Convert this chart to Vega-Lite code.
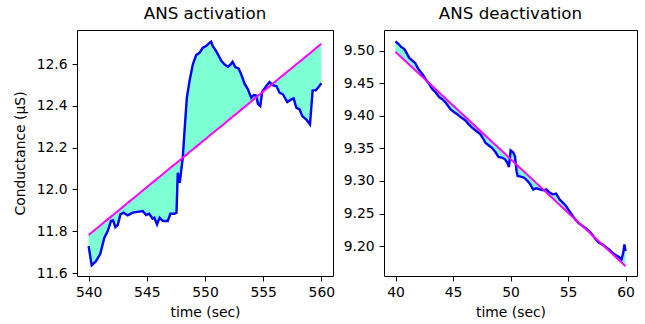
{
  "$schema": "https://vega.github.io/schema/vega-lite/v6.json",
  "background": "white",
  "padding": {"left": 12, "top": 5, "right": 5, "bottom": 3},
  "spacing": 6,
  "config": {
    "font": "DejaVu Sans",
    "view": {"stroke": "#000", "strokeWidth": 1},
    "axis": {
      "grid": false, "domain": false, "ticks": true, "tickColor": "#000", "tickSize": 4.9, "tickWidth": 1,
      "labelFont": "DejaVu Sans", "labelFontSize": 13.9, "labelColor": "#000", "labelPadding": 5,
      "titleFont": "DejaVu Sans", "titleFontSize": 13.9, "titleFontWeight": "normal", "titleColor": "#000",
      "labelFlush": false
    },
    "axisX": {"titlePadding": 6},
    "axisY": {"titlePadding": 9},
    "title": {"font": "DejaVu Sans", "fontSize": 16.7, "fontWeight": "normal", "color": "#000", "offset": 7}
  },
  "datasets": {
    "act": [
      {"t": 540.0, "v": 11.729, "fit": 11.782},
      {"t": 540.26, "v": 11.637, "fit": 11.794},
      {"t": 540.63, "v": 11.657, "fit": 11.811},
      {"t": 541.0, "v": 11.692, "fit": 11.828},
      {"t": 541.35, "v": 11.769, "fit": 11.844},
      {"t": 541.64, "v": 11.801, "fit": 11.857},
      {"t": 541.92, "v": 11.849, "fit": 11.870},
      {"t": 542.1, "v": 11.852, "fit": 11.878},
      {"t": 542.3, "v": 11.82, "fit": 11.887},
      {"t": 542.5, "v": 11.83, "fit": 11.896},
      {"t": 542.73, "v": 11.881, "fit": 11.907},
      {"t": 543.0, "v": 11.889, "fit": 11.919},
      {"t": 543.36, "v": 11.876, "fit": 11.936},
      {"t": 543.79, "v": 11.889, "fit": 11.955},
      {"t": 544.2, "v": 11.893, "fit": 11.974},
      {"t": 544.65, "v": 11.897, "fit": 11.995},
      {"t": 544.94, "v": 11.878, "fit": 12.008},
      {"t": 545.2, "v": 11.884, "fit": 12.020},
      {"t": 545.5, "v": 11.86, "fit": 12.034},
      {"t": 545.65, "v": 11.865, "fit": 12.040},
      {"t": 545.88, "v": 11.833, "fit": 12.051},
      {"t": 546.1, "v": 11.865, "fit": 12.061},
      {"t": 546.37, "v": 11.849, "fit": 12.073},
      {"t": 546.8, "v": 11.849, "fit": 12.093},
      {"t": 547.03, "v": 11.884, "fit": 12.104},
      {"t": 547.37, "v": 11.884, "fit": 12.119},
      {"t": 547.55, "v": 11.889, "fit": 12.127},
      {"t": 547.66, "v": 12.08, "fit": 12.132},
      {"t": 547.83, "v": 12.032, "fit": 12.140},
      {"t": 547.95, "v": 12.088, "fit": 12.146},
      {"t": 548.09, "v": 12.152, "fit": 12.152},
      {"t": 548.24, "v": 12.279, "fit": 12.159},
      {"t": 548.44, "v": 12.439, "fit": 12.168},
      {"t": 548.67, "v": 12.519, "fit": 12.179},
      {"t": 548.95, "v": 12.598, "fit": 12.191},
      {"t": 549.24, "v": 12.643, "fit": 12.205},
      {"t": 549.53, "v": 12.654, "fit": 12.218},
      {"t": 549.81, "v": 12.678, "fit": 12.231},
      {"t": 550.1, "v": 12.686, "fit": 12.244},
      {"t": 550.33, "v": 12.699, "fit": 12.255},
      {"t": 550.53, "v": 12.707, "fit": 12.264},
      {"t": 550.67, "v": 12.686, "fit": 12.270},
      {"t": 550.96, "v": 12.662, "fit": 12.283},
      {"t": 551.39, "v": 12.617, "fit": 12.303},
      {"t": 551.68, "v": 12.598, "fit": 12.316},
      {"t": 551.97, "v": 12.586, "fit": 12.330},
      {"t": 552.2, "v": 12.598, "fit": 12.340},
      {"t": 552.37, "v": 12.611, "fit": 12.348},
      {"t": 552.6, "v": 12.586, "fit": 12.358},
      {"t": 552.88, "v": 12.579, "fit": 12.371},
      {"t": 553.11, "v": 12.551, "fit": 12.382},
      {"t": 553.4, "v": 12.506, "fit": 12.395},
      {"t": 553.69, "v": 12.479, "fit": 12.408},
      {"t": 553.97, "v": 12.439, "fit": 12.421},
      {"t": 554.2, "v": 12.452, "fit": 12.432},
      {"t": 554.4, "v": 12.45, "fit": 12.441},
      {"t": 554.55, "v": 12.41, "fit": 12.448},
      {"t": 554.75, "v": 12.399, "fit": 12.457},
      {"t": 554.92, "v": 12.468, "fit": 12.465},
      {"t": 555.27, "v": 12.495, "fit": 12.481},
      {"t": 555.55, "v": 12.514, "fit": 12.493},
      {"t": 555.84, "v": 12.498, "fit": 12.507},
      {"t": 556.13, "v": 12.495, "fit": 12.520},
      {"t": 556.41, "v": 12.463, "fit": 12.533},
      {"t": 556.7, "v": 12.455, "fit": 12.546},
      {"t": 557.07, "v": 12.418, "fit": 12.563},
      {"t": 557.42, "v": 12.431, "fit": 12.579},
      {"t": 557.62, "v": 12.436, "fit": 12.588},
      {"t": 557.85, "v": 12.391, "fit": 12.599},
      {"t": 558.13, "v": 12.383, "fit": 12.611},
      {"t": 558.36, "v": 12.351, "fit": 12.622},
      {"t": 558.71, "v": 12.335, "fit": 12.638},
      {"t": 558.91, "v": 12.319, "fit": 12.647},
      {"t": 559.02, "v": 12.311, "fit": 12.652},
      {"t": 559.25, "v": 12.474, "fit": 12.663},
      {"t": 559.51, "v": 12.474, "fit": 12.675},
      {"t": 559.71, "v": 12.487, "fit": 12.684},
      {"t": 560.0, "v": 12.508, "fit": 12.697}
    ],
    "deact": [
      {"t": 40.0, "v": 9.5144, "fit": 9.4985},
      {"t": 40.29, "v": 9.510, "fit": 9.4937},
      {"t": 40.49, "v": 9.506, "fit": 9.4904},
      {"t": 40.77, "v": 9.5026, "fit": 9.4858},
      {"t": 40.98, "v": 9.496, "fit": 9.4824},
      {"t": 41.2, "v": 9.489, "fit": 9.4787},
      {"t": 41.49, "v": 9.4846, "fit": 9.4740},
      {"t": 41.72, "v": 9.481, "fit": 9.4702},
      {"t": 41.92, "v": 9.474, "fit": 9.4669},
      {"t": 42.07, "v": 9.470, "fit": 9.4644},
      {"t": 42.35, "v": 9.464, "fit": 9.4598},
      {"t": 42.64, "v": 9.456, "fit": 9.4550},
      {"t": 42.93, "v": 9.449, "fit": 9.4502},
      {"t": 43.21, "v": 9.441, "fit": 9.4456},
      {"t": 43.5, "v": 9.436, "fit": 9.4408},
      {"t": 43.79, "v": 9.429, "fit": 9.4361},
      {"t": 44.07, "v": 9.4256, "fit": 9.4314},
      {"t": 44.36, "v": 9.4205, "fit": 9.4267},
      {"t": 44.79, "v": 9.410, "fit": 9.4196},
      {"t": 45.08, "v": 9.406, "fit": 9.4148},
      {"t": 45.37, "v": 9.4026, "fit": 9.4100},
      {"t": 45.65, "v": 9.3985, "fit": 9.4054},
      {"t": 46.08, "v": 9.393, "fit": 9.3983},
      {"t": 46.37, "v": 9.387, "fit": 9.3936},
      {"t": 46.66, "v": 9.382, "fit": 9.3888},
      {"t": 46.94, "v": 9.378, "fit": 9.3842},
      {"t": 47.37, "v": 9.372, "fit": 9.3771},
      {"t": 47.66, "v": 9.364, "fit": 9.3723},
      {"t": 47.8, "v": 9.359, "fit": 9.3700},
      {"t": 48.09, "v": 9.355, "fit": 9.3652},
      {"t": 48.38, "v": 9.351, "fit": 9.3604},
      {"t": 48.67, "v": 9.345, "fit": 9.3557},
      {"t": 48.95, "v": 9.337, "fit": 9.3510},
      {"t": 49.24, "v": 9.336, "fit": 9.3463},
      {"t": 49.53, "v": 9.3333, "fit": 9.3415},
      {"t": 49.76, "v": 9.3267, "fit": 9.3377},
      {"t": 49.87, "v": 9.3215, "fit": 9.3359},
      {"t": 50.01, "v": 9.347, "fit": 9.3336},
      {"t": 50.24, "v": 9.3436, "fit": 9.3298},
      {"t": 50.39, "v": 9.338, "fit": 9.3273},
      {"t": 50.53, "v": 9.315, "fit": 9.3250},
      {"t": 50.62, "v": 9.3077, "fit": 9.3235},
      {"t": 50.9, "v": 9.3067, "fit": 9.3189},
      {"t": 51.19, "v": 9.305, "fit": 9.3141},
      {"t": 51.48, "v": 9.3, "fit": 9.3094},
      {"t": 51.68, "v": 9.296, "fit": 9.3061},
      {"t": 51.97, "v": 9.287, "fit": 9.3013},
      {"t": 52.25, "v": 9.2887, "fit": 9.2967},
      {"t": 52.54, "v": 9.287, "fit": 9.2919},
      {"t": 52.83, "v": 9.2856, "fit": 9.2871},
      {"t": 53.11, "v": 9.287, "fit": 9.2825},
      {"t": 53.4, "v": 9.282, "fit": 9.2777},
      {"t": 53.69, "v": 9.2795, "fit": 9.2730},
      {"t": 53.97, "v": 9.2805, "fit": 9.2683},
      {"t": 54.26, "v": 9.2718, "fit": 9.2636},
      {"t": 54.55, "v": 9.2667, "fit": 9.2588},
      {"t": 54.83, "v": 9.2615, "fit": 9.2542},
      {"t": 55.12, "v": 9.2538, "fit": 9.2494},
      {"t": 55.41, "v": 9.2462, "fit": 9.2446},
      {"t": 55.7, "v": 9.2395, "fit": 9.2398},
      {"t": 55.98, "v": 9.2344, "fit": 9.2352},
      {"t": 56.27, "v": 9.2308, "fit": 9.2305},
      {"t": 56.56, "v": 9.2272, "fit": 9.2257},
      {"t": 56.84, "v": 9.2231, "fit": 9.2211},
      {"t": 57.13, "v": 9.2169, "fit": 9.2163},
      {"t": 57.42, "v": 9.2103, "fit": 9.2115},
      {"t": 57.7, "v": 9.2051, "fit": 9.2069},
      {"t": 57.99, "v": 9.2026, "fit": 9.2021},
      {"t": 58.28, "v": 9.1985, "fit": 9.1974},
      {"t": 58.57, "v": 9.1949, "fit": 9.1926},
      {"t": 58.85, "v": 9.1897, "fit": 9.1880},
      {"t": 59.14, "v": 9.1862, "fit": 9.1832},
      {"t": 59.43, "v": 9.1831, "fit": 9.1785},
      {"t": 59.66, "v": 9.1795, "fit": 9.1747},
      {"t": 59.8, "v": 9.1897, "fit": 9.1724},
      {"t": 59.91, "v": 9.2026, "fit": 9.1706},
      {"t": 60.0, "v": 9.1923, "fit": 9.1690}
    ]
  },
  "hconcat": [
    {
      "title": "ANS activation",
      "width": 256,
      "height": 246,
      "data": {"name": "act"},
      "encoding": {
        "x": {"field": "t", "type": "quantitative", "scale": {"domain": [539, 561], "nice": false, "zero": false},
              "axis": {"title": "time (sec)", "values": [540, 545, 550, 555, 560]}}
      },
      "layer": [
        {"mark": {"type": "area", "color": "#7fffd4", "opacity": 1},
         "encoding": {
           "y": {"field": "v", "type": "quantitative", "scale": {"domain": [11.586, 12.763], "nice": false, "zero": false},
                 "axis": {"title": "Conductance (μS)", "values": [11.6, 11.8, 12.0, 12.2, 12.4, 12.6], "format": ".1f"}},
           "y2": {"field": "fit"}}},
        {"mark": {"type": "line", "color": "#0000ff", "strokeWidth": 2.4},
         "encoding": {"y": {"field": "v", "type": "quantitative"}}},
        {"mark": {"type": "line", "color": "#ff00ff", "strokeWidth": 2},
         "encoding": {"y": {"field": "fit", "type": "quantitative"}}}
      ]
    },
    {
      "title": "ANS deactivation",
      "width": 253,
      "height": 246,
      "data": {"name": "deact"},
      "encoding": {
        "x": {"field": "t", "type": "quantitative", "scale": {"domain": [39, 61], "nice": false, "zero": false},
              "axis": {"title": "time (sec)", "values": [40, 45, 50, 55, 60]}}
      },
      "layer": [
        {"mark": {"type": "area", "color": "#7fffd4", "opacity": 1},
         "encoding": {
           "y": {"field": "v", "type": "quantitative", "scale": {"domain": [9.154, 9.532], "nice": false, "zero": false},
                 "axis": {"title": null, "values": [9.2, 9.25, 9.3, 9.35, 9.4, 9.45, 9.5], "format": ".2f"}},
           "y2": {"field": "fit"}}},
        {"mark": {"type": "line", "color": "#0000ff", "strokeWidth": 2.4},
         "encoding": {"y": {"field": "v", "type": "quantitative"}}},
        {"mark": {"type": "line", "color": "#ff00ff", "strokeWidth": 2},
         "encoding": {"y": {"field": "fit", "type": "quantitative"}}}
      ]
    }
  ]
}
